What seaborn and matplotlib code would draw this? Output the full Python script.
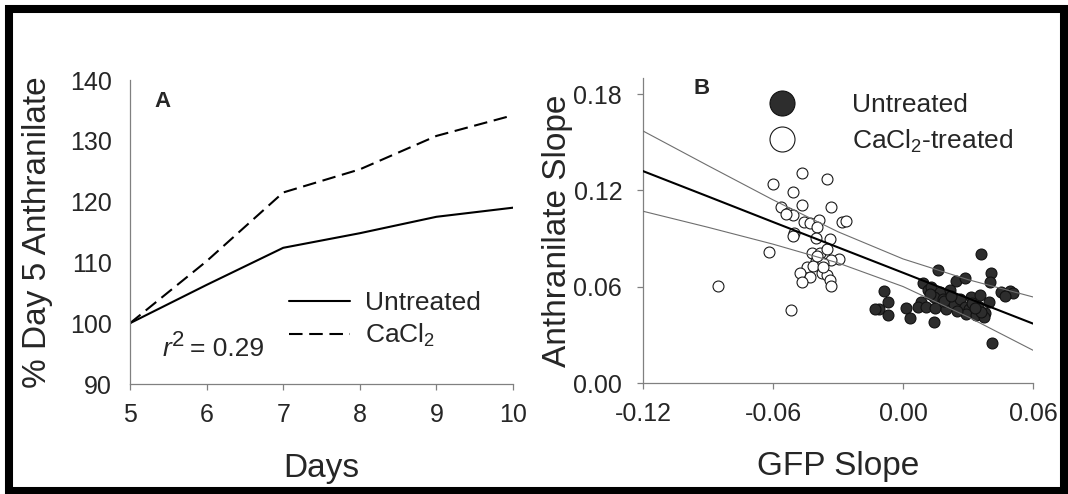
import numpy as np
import pandas as pd
import matplotlib
matplotlib.use("Agg")
import matplotlib.pyplot as plt
import matplotlib.transforms as mtransforms
import seaborn as sns
from matplotlib.lines import Line2D
from matplotlib.patches import Rectangle

# Panel A: anthranilate relative to day 5
days = [5, 6, 7, 8, 9, 10]
untreated_pct = [100, 106.3, 112.4, 114.8, 117.5, 119.0]
cacl2_pct = [100, 110.2, 121.5, 125.3, 130.8, 134.2]

# Panel B: per-culture slopes
cacl2_gfp = [-0.0464, -0.0353, -0.0602, -0.0510, -0.0467, -0.0332, -0.0561, -0.0529,
             -0.0508, -0.0458, -0.0431, -0.0388, -0.0397, -0.0280, -0.0265, -0.0505,
             -0.0508, -0.0403, -0.0338, -0.0620, -0.0422, -0.0381, -0.0353, -0.0294,
             -0.0400, -0.0334, -0.0445, -0.0414, -0.0368, -0.0477, -0.0375, -0.0431,
             -0.0353, -0.0466, -0.0338, -0.0331, -0.0852, -0.0515, -0.0540, -0.0395,
             -0.0370]
cacl2_anth = [0.1311, 0.1269, 0.1240, 0.1190, 0.1110, 0.1098, 0.1098, 0.1057,
              0.1047, 0.1005, 0.0995, 0.1016, 0.0974, 0.1005, 0.1011, 0.0937,
              0.0916, 0.0904, 0.0896, 0.0816, 0.0808, 0.0808, 0.0833, 0.0773,
              0.0762, 0.0767, 0.0725, 0.0729, 0.0746, 0.0688, 0.0688, 0.0663,
              0.0674, 0.0632, 0.0641, 0.0604, 0.0605, 0.0454, 0.1050, 0.0790,
              0.0720]
untreated_gfp = [0.0362, 0.0162, 0.0408, 0.0400, 0.0243, 0.0285, -0.0088, 0.0090,
                 0.0115, 0.0131, 0.0169, 0.0215, 0.0454, 0.0492, 0.0508, 0.0469,
                 -0.0069, -0.0111, -0.0131, -0.0069, 0.0016, 0.0034, 0.0085, 0.0069,
                 0.0108, 0.0146, 0.0142, 0.0185, 0.0200, 0.0234, 0.0265, 0.0316,
                 0.0354, 0.0397, 0.0285, 0.0305, 0.0346, 0.0293, 0.0339, 0.0377,
                 0.0372, 0.0142, 0.0413, 0.0125, 0.0190, 0.0250, 0.0320, 0.0360,
                 0.0330, 0.0220]
untreated_anth = [0.0802, 0.0705, 0.0688, 0.0632, 0.0638, 0.0657, 0.0574, 0.0622,
                  0.0580, 0.0601, 0.0570, 0.0580, 0.0566, 0.0574, 0.0560, 0.0543,
                  0.0504, 0.0462, 0.0462, 0.0425, 0.0466, 0.0404, 0.0507, 0.0473,
                  0.0473, 0.0466, 0.0535, 0.0524, 0.0460, 0.0493, 0.0524, 0.0535,
                  0.0549, 0.0507, 0.0473, 0.0460, 0.0481, 0.0431, 0.0425, 0.0439,
                  0.0410, 0.0377, 0.0249, 0.0555, 0.0510, 0.0450, 0.0500, 0.0440,
                  0.0470, 0.0545]

# Regression line with 95% confidence limits
band_gfp = [-0.12, -0.09, -0.06, -0.03, 0.00, 0.03, 0.06]
fit_anth = [0.1320, 0.1162, 0.1003, 0.0845, 0.0687, 0.0528, 0.0370]
upper_anth = [0.1570, 0.1354, 0.1141, 0.0942, 0.0773, 0.0644, 0.0536]
lower_anth = [0.1070, 0.0970, 0.0865, 0.0748, 0.0601, 0.0412, 0.0204]

r_squared_label = "0.29"

sns.set_theme(style="ticks")
plt.rcParams["font.family"] = ["Liberation Sans", "DejaVu Sans"]
plt.rcParams["mathtext.fontset"] = "custom"
plt.rcParams["mathtext.rm"] = "Liberation Sans"
plt.rcParams["mathtext.it"] = "Liberation Sans:italic"
plt.rcParams["mathtext.bf"] = "Liberation Sans:bold"

W, H = 1068, 494
fig = plt.figure(figsize=(W / 100, H / 100), dpi=100)
fig.patch.set_facecolor("white")


def axes_px(left, top, right, bottom):
    return fig.add_axes([left / W, 1 - bottom / H, (right - left) / W, (bottom - top) / H])


axA = axes_px(130, 80, 513, 384)
axB = axes_px(643, 78, 1033, 383)

SPINE = "#808080"
TICK_FS = 18
LABEL_FS = 24
LEG_FS = 19

for ax in (axA, axB):
    sns.despine(ax=ax)
    for side in ("left", "bottom"):
        ax.spines[side].set_color(SPINE)
        ax.spines[side].set_linewidth(0.9)
    ax.set_facecolor("white")

# ---- Panel A ----
dfA = pd.DataFrame({
    "Day": days + days,
    "Percent": untreated_pct + cacl2_pct,
    "Treatment": ["Untreated"] * len(days) + ["CaCl2"] * len(days),
})
sns.lineplot(data=dfA, x="Day", y="Percent", style="Treatment",
             dashes={"Untreated": "", "CaCl2": (6.5, 3.2)},
             color="black", linewidth=1.5, ax=axA, legend=False)
axA.set_xlim(5, 10)
axA.set_ylim(90, 140)
axA.set_xticks(days)
axA.set_yticks([90, 100, 110, 120, 130, 140])
axA.tick_params(axis="x", length=4, width=0.9, color=SPINE, labelsize=TICK_FS, pad=10)
axA.tick_params(axis="y", length=0, labelsize=TICK_FS, pad=13)
axA.set_xlabel("Days", fontsize=LABEL_FS)
axA.set_ylabel("% Day 5 Anthranilate", fontsize=LABEL_FS)
axA.xaxis.set_label_coords(0.5, -0.226)
axA.yaxis.set_label_coords(-0.20, 0.5)
axA.text(0.086, 0.928, "A", transform=axA.transAxes, fontsize=16,
         fontweight="bold", ha="center", va="center")

# r-squared annotation: italic r, raised 2, then the value
r_x, r_y = 5.42, 94.6
axA.text(r_x, r_y, "r", fontsize=LEG_FS, style="italic", ha="left", va="baseline")
sup_tr = mtransforms.offset_copy(axA.transData, fig=fig, x=10, y=10, units="dots")
axA.text(r_x, r_y, "2", fontsize=16, ha="left", va="baseline", transform=sup_tr)
val_tr = mtransforms.offset_copy(axA.transData, fig=fig, x=28, y=0, units="dots")
axA.text(r_x, r_y, "= " + r_squared_label, fontsize=LEG_FS, ha="left", va="baseline",
         transform=val_tr)

handlesA = [Line2D([], [], color="black", lw=1.5),
            Line2D([], [], color="black", lw=1.5, dashes=(6.5, 3.2))]
axA.legend(handlesA, ["Untreated", r"CaCl$_2$"], loc="center left",
           bbox_to_anchor=(0.416, 0.21), frameon=False, fontsize=LEG_FS,
           handlelength=2.3, handletextpad=0.55, labelspacing=0.28,
           borderpad=0, borderaxespad=0)

# ---- Panel B ----
dfB = pd.DataFrame({
    "GFP": cacl2_gfp + untreated_gfp,
    "Anth": cacl2_anth + untreated_anth,
    "Group": ["CaCl2-treated"] * len(cacl2_gfp) + ["Untreated"] * len(untreated_gfp),
})
sns.scatterplot(data=dfB[dfB.Group == "CaCl2-treated"], x="GFP", y="Anth",
                color="white", edgecolor="#1a1a1a", linewidth=0.8, s=62,
                ax=axB, legend=False, zorder=3)
sns.scatterplot(data=dfB[dfB.Group == "Untreated"], x="GFP", y="Anth",
                color="#2d2d2d", edgecolor="#111111", linewidth=0.8, s=62,
                ax=axB, legend=False, zorder=3)
dfFit = pd.DataFrame({"GFP": band_gfp, "fit": fit_anth,
                      "upper": upper_anth, "lower": lower_anth})
sns.lineplot(data=dfFit, x="GFP", y="upper", color="#6e6e6e", linewidth=0.8, ax=axB, zorder=4)
sns.lineplot(data=dfFit, x="GFP", y="lower", color="#6e6e6e", linewidth=0.8, ax=axB, zorder=4)
sns.lineplot(data=dfFit, x="GFP", y="fit", color="black", linewidth=1.5, ax=axB, zorder=5)
axB.set_xlim(-0.12, 0.06)
axB.set_ylim(0, 0.19)
axB.set_xticks([-0.12, -0.06, 0.00, 0.06])
axB.set_xticklabels(["-0.12", "-0.06", "0.00", "0.06"])
axB.set_yticks([0.00, 0.06, 0.12, 0.18])
axB.set_yticklabels(["0.00", "0.06", "0.12", "0.18"])
axB.tick_params(axis="x", length=4, width=0.9, color=SPINE, labelsize=TICK_FS, pad=10)
axB.tick_params(axis="y", length=4, width=0.9, color=SPINE, labelsize=TICK_FS, pad=11)
axB.set_xlabel("GFP Slope", fontsize=LABEL_FS)
axB.set_ylabel("Anthranilate Slope", fontsize=LABEL_FS)
axB.xaxis.set_label_coords(0.5, -0.222)
axB.yaxis.set_label_coords(-0.18, 0.5)
axB.text(0.149, 0.967, "B", transform=axB.transAxes, fontsize=16,
         fontweight="bold", ha="center", va="center")
handlesB = [Line2D([], [], ls="", marker="o", markersize=18, markerfacecolor="#2d2d2d",
                   markeredgecolor="#111111", markeredgewidth=0.8),
            Line2D([], [], ls="", marker="o", markersize=18, markerfacecolor="white",
                   markeredgecolor="#1a1a1a", markeredgewidth=0.8)]
axB.legend(handlesB, ["Untreated", r"CaCl$_2$-treated"], loc="center left",
           bbox_to_anchor=(0.29, 0.85), frameon=False, fontsize=LEG_FS,
           handlelength=2.0, handletextpad=1.65, labelspacing=0.4,
           borderpad=0, borderaxespad=0)

# Heavy frame around the whole figure
fig.patches.append(Rectangle((9 / W, 3 / H), 1055 / W, 482 / H, transform=fig.transFigure,
                             fill=False, edgecolor="black", linewidth=5.8, zorder=10))

fig.savefig("out.png", dpi=100, facecolor="white")
